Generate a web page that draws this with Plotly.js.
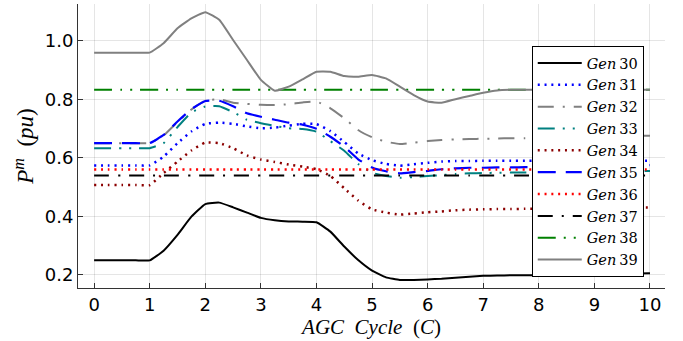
<!DOCTYPE html>
<html>
<head>
<meta charset="utf-8">
<script src="https://cdn.plot.ly/plotly-3.0.1.min.js"></script>
<style>
  html, body { margin: 0; padding: 0; background: #fff; }
  #chart { width: 683px; height: 341px; }
</style>
</head>
<body>
<div id="chart"></div>
<script>
// AGC cycle samples (quarter-cycle resolution)
const cycles = [0, 0.25, 0.5, 0.75, 1, 1.25, 1.5, 1.75, 2, 2.25, 2.5, 2.75, 3, 3.25, 3.5, 3.75, 4, 4.25, 4.5, 4.75,
  5, 5.25, 5.5, 5.75, 6, 6.25, 6.5, 6.75, 7, 7.25, 7.5, 7.75, 8, 8.25, 8.5, 8.75, 9, 9.25, 9.5, 9.75, 10];

// Mechanical power set-points per generator (pu)
const gen30 = [0.25, 0.25, 0.25, 0.25, 0.25, 0.283, 0.337, 0.399, 0.442, 0.447, 0.431, 0.413, 0.395, 0.387, 0.383, 0.382, 0.38, 0.348, 0.297, 0.251,
  0.215, 0.192, 0.183, 0.183, 0.185, 0.187, 0.191, 0.194, 0.197, 0.198, 0.199, 0.199, 0.2, 0.2, 0.201, 0.201, 0.202, 0.203, 0.204, 0.205, 0.206];
const gen31 = [0.574, 0.574, 0.574, 0.574, 0.574, 0.604, 0.65, 0.69, 0.716, 0.72, 0.716, 0.707, 0.701, 0.703, 0.71, 0.716, 0.715, 0.691, 0.654, 0.615,
  0.592, 0.579, 0.573, 0.578, 0.583, 0.587, 0.589, 0.589, 0.59, 0.59, 0.59, 0.59, 0.59, 0.59, 0.59, 0.59, 0.59, 0.59, 0.59, 0.59, 0.59];
const gen32 = [0.65, 0.65, 0.65, 0.65, 0.65, 0.676, 0.722, 0.765, 0.795, 0.80, 0.788, 0.784, 0.781, 0.78, 0.783, 0.789, 0.792, 0.769, 0.735, 0.695,
  0.67, 0.655, 0.647, 0.652, 0.657, 0.661, 0.663, 0.664, 0.665, 0.666, 0.667, 0.667, 0.668, 0.669, 0.67, 0.671, 0.672, 0.673, 0.674, 0.675, 0.675];
const gen33 = [0.633, 0.633, 0.633, 0.633, 0.633, 0.65, 0.705, 0.755, 0.775, 0.776, 0.756, 0.73, 0.718, 0.709, 0.701, 0.698, 0.689, 0.657, 0.624, 0.579,
  0.549, 0.538, 0.532, 0.534, 0.538, 0.541, 0.545, 0.547, 0.548, 0.549, 0.55, 0.55, 0.551, 0.551, 0.552, 0.552, 0.553, 0.553, 0.554, 0.554, 0.555];
const gen34 = [0.507, 0.507, 0.507, 0.507, 0.507, 0.548, 0.587, 0.625, 0.652, 0.65, 0.633, 0.608, 0.594, 0.586, 0.577, 0.57, 0.561, 0.538, 0.496, 0.454,
  0.424, 0.413, 0.406, 0.41, 0.414, 0.417, 0.421, 0.423, 0.424, 0.425, 0.425, 0.426, 0.426, 0.427, 0.427, 0.428, 0.428, 0.429, 0.429, 0.43, 0.43];
const gen35 = [0.65, 0.65, 0.65, 0.65, 0.65, 0.678, 0.724, 0.766, 0.794, 0.795, 0.776, 0.752, 0.74, 0.73, 0.72, 0.713, 0.699, 0.672, 0.638, 0.595,
  0.567, 0.554, 0.547, 0.551, 0.555, 0.561, 0.564, 0.566, 0.566, 0.567, 0.567, 0.568, 0.568, 0.569, 0.57, 0.571, 0.572, 0.573, 0.574, 0.575, 0.575];
const gen36 = [0.56, 0.56, 0.56, 0.56, 0.56, 0.56, 0.56, 0.56, 0.56, 0.56, 0.56, 0.56, 0.56, 0.56, 0.56, 0.56, 0.56, 0.56, 0.56, 0.56,
  0.56, 0.56, 0.56, 0.56, 0.56, 0.56, 0.56, 0.56, 0.56, 0.56, 0.56, 0.56, 0.56, 0.56, 0.56, 0.56, 0.56, 0.56, 0.56, 0.56, 0.56];
const gen37 = [0.54, 0.54, 0.54, 0.54, 0.54, 0.54, 0.54, 0.54, 0.54, 0.54, 0.54, 0.54, 0.54, 0.54, 0.54, 0.54, 0.54, 0.54, 0.54, 0.54,
  0.54, 0.54, 0.54, 0.54, 0.54, 0.54, 0.54, 0.54, 0.54, 0.54, 0.54, 0.54, 0.54, 0.54, 0.54, 0.54, 0.54, 0.54, 0.54, 0.54, 0.54];
const gen38 = [0.832, 0.832, 0.832, 0.832, 0.832, 0.832, 0.832, 0.832, 0.832, 0.832, 0.832, 0.832, 0.832, 0.832, 0.832, 0.832, 0.832, 0.832, 0.832, 0.832,
  0.832, 0.832, 0.832, 0.832, 0.832, 0.832, 0.832, 0.832, 0.832, 0.832, 0.832, 0.832, 0.832, 0.832, 0.832, 0.832, 0.832, 0.832, 0.832, 0.832, 0.832];
const gen39 = [0.959, 0.959, 0.959, 0.959, 0.959, 0.991, 1.042, 1.076, 1.097, 1.071, 1.002, 0.934, 0.866, 0.829, 0.843, 0.868, 0.894, 0.894, 0.879, 0.877,
  0.883, 0.871, 0.843, 0.814, 0.792, 0.788, 0.80, 0.811, 0.822, 0.83, 0.832, 0.832, 0.832, 0.832, 0.832, 0.832, 0.832, 0.832, 0.832, 0.832, 0.832];

const genNames = ['30', '31', '32', '33', '34', '35', '36', '37', '38', '39'];
const xTicks = [0, 1, 2, 3, 4, 5, 6, 7, 8, 9, 10];
const yTicks = [0.2, 0.4, 0.6, 0.8, 1.0];
const yTickText = ['0.2', '0.4', '0.6', '0.8', '1.0'];

const series = [gen30, gen31, gen32, gen33, gen34, gen35, gen36, gen37, gen38, gen39];
const styles = [
  { color: '#000000', dash: 'solid', width: 2 },
  { color: '#0000ff', dash: '2px,4.8px', width: 2.5 },
  { color: '#808080', dash: '16px,9px,2px,9px', width: 2 },
  { color: '#008080', dash: '17px,8px,2px,8px,2px,8px', width: 2 },
  { color: '#8b0000', dash: '2px,4.8px', width: 2.5 },
  { color: '#0000ff', dash: '18px,10px', width: 2.2 },
  { color: '#ff0000', dash: '2px,4.8px', width: 2.5 },
  { color: '#000000', dash: '15px,9px,2px,9px', width: 2 },
  { color: '#008000', dash: '18px,8px,2px,8px,2px,8px', width: 2 },
  { color: '#808080', dash: 'solid', width: 2 }
];

const traces = series.map((ys, i) => ({
  x: cycles,
  y: ys,
  type: 'scatter',
  mode: 'lines',
  name: '<i>Gen</i>\u2009' + genNames[i],
  line: { color: styles[i].color, dash: styles[i].dash, width: styles[i].width, shape: 'spline', smoothing: 0.4 }
}));

const tickFont = { family: 'DejaVu Sans, sans-serif', size: 18, color: '#000' };

const layout = {
  width: 683,
  height: 341,
  margin: { l: 78, r: 18, t: 4, b: 53 },
  paper_bgcolor: '#fff',
  plot_bgcolor: '#fff',
  showlegend: true,
  legend: {
    x: 0.773, y: 0.852, xanchor: 'left', yanchor: 'top',
    bgcolor: '#fff', bordercolor: '#000', borderwidth: 1,
    itemwidth: 44,
    font: { family: 'DejaVu Serif, serif', size: 14.5, color: '#000' }
  },
  xaxis: {
    range: [-0.29, 10.27],
    tickvals: xTicks,
    ticktext: xTicks.map(String),
    ticks: 'inside', ticklen: 5, tickcolor: '#333',
    showline: true, linecolor: '#333', linewidth: 1,
    showgrid: true, gridcolor: 'rgba(0,0,0,0.1)', gridwidth: 1,
    zeroline: false, mirror: false,
    tickfont: tickFont,
    title: {
      text: '<i>AGC\u2002Cycle</i>\u2002(<i>C</i>)',
      font: { family: 'Liberation Serif, serif', size: 21, color: '#000' },
      standoff: 0
    }
  },
  yaxis: {
    range: [0.1556, 1.125],
    tickvals: yTicks,
    ticktext: yTickText,
    ticks: 'inside', ticklen: 5, tickcolor: '#333',
    showline: true, linecolor: '#333', linewidth: 1,
    showgrid: true, gridcolor: 'rgba(0,0,0,0.1)', gridwidth: 1,
    zeroline: false, mirror: false,
    tickfont: tickFont,
    title: {
      text: '<i>P</i><sup><i>m</i></sup>\u2002(<i>pu</i>)',
      font: { family: 'Liberation Serif, serif', size: 23, color: '#000' },
      standoff: 4
    }
  }
};

Plotly.newPlot('chart', traces, layout, { displayModeBar: false, staticPlot: true });
</script>
</body>
</html>
